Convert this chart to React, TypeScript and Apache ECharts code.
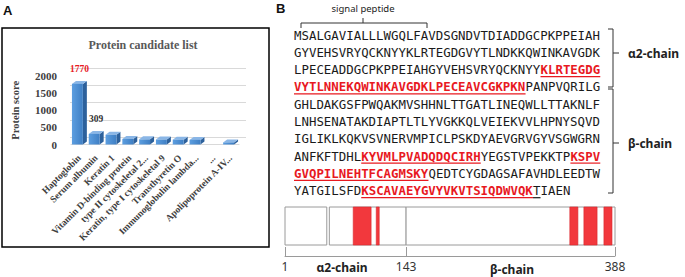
import React, { useEffect, useRef } from "react";
import * as echarts from "echarts";

// ---------- Panel A data ----------
const categories = [
  "Haptoglobin",
  "Serum albumin",
  "Keratin 1",
  "Vitamin D-binding protein",
  "type II cytoskeletal 2...",
  "Keratin, type I cytoskeletal 9",
  "Transthyretin O",
  "Immunoglobulin lambda...",
  "...",
  "Apolipoprotein A-IV...",
];
const scores: (number | null)[] = [1770, 309, 285, 160, 150, 145, 140, 135, null, 60];
const scoreLabels: (string | null)[] = ["1770", "309", null, null, null, null, null, null, null, null];
const scoreLabelColors = ["#e8191f", "#333333"];

// ---------- Panel B data ----------
type Seg = [string, "n" | "p" | "u"];
const seqLines: Seg[][] = [
  [["MSALGAVIALLLWGQLFAVDSGNDVTDIADDGCPKPPEIAH", "n"]],
  [["GYVEHSVRYQCKNYYKLRTEGDGVYTLNDKKQWINKAVGDK", "n"]],
  [["LPECEADDGCPKPPEIAHGYVEHSVRYQCKNYY", "n"], ["KLRTEGDG", "p"]],
  [["VYTLNNEKQWINKAVGDKLPECEAVCGKPKN", "p"], ["PANPVQRILG", "n"]],
  [["GHLDAKGSFPWQAKMVSHHNLTTGATLINEQWLLTTAKNLF", "n"]],
  [["LNHSENATAKDIAPTLTLYVGKKQLVEIEKVVLHPNYSQVD", "n"]],
  [["IGLIKLKQKVSVNERVMPICLPSKDYAEVGRVGYVSGWGRN", "n"]],
  [["ANFKFTDHL", "n"], ["KYVMLPVADQDQCIRH", "p"], ["YEGSTVPEKKTP", "n"], ["KSPV", "p"]],
  [["GVQPILNEHTFCAGMSKY", "p"], ["QEDTCYGDAGSAFAVHDLEEDTW", "n"]],
  [["YATGILSFD", "n"], ["KSCAVAEYGVYVKVTSIQDWVQK", "p"], ["T", "u"], ["IAEN", "n"]],
];
// schematic domain map (residue positions)
const domainBoxes = [
  [1, 50],
  [53, 143],
  [143, 388],
];
const peptideSpans = [
  [81, 102],
  [108, 111.5],
  [335, 344.5],
  [351.5, 367],
  [375, 384.5],
];
const residueTicks = [1, 143, 388];

const RED = "#e8191f";
const SERIF = "'Liberation Serif', 'Times New Roman', serif";
const SANS = "'Noto Sans', 'Liberation Sans', sans-serif";
const MONO = "'DejaVu Sans Mono', monospace";

function txt(x: number, y: number, text: string, o: any = {}) {
  const align = o.align || "left";
  return {
    type: "text",
    x,
    y,
    z: 10,
    rotation: o.rotation || 0,
    style: {
      text,
      fontFamily: o.fontFamily || SANS,
      fontSize: o.fontSize || 12,
      fontWeight: o.fontWeight || "normal",
      fill: o.fill || "#111",
      align,
      textAlign: align,
      verticalAlign: "middle",
      textVerticalAlign: "middle",
    },
  };
}
function pl(points: number[][], stroke = "#333", lw = 1) {
  return {
    type: "polyline",
    z: 10,
    shape: { points },
    style: { stroke, lineWidth: lw, fill: null },
  };
}

export default function App() {
  const ref = useRef<HTMLDivElement>(null);
  useEffect(() => {
    if (!ref.current) return;
    const chart = echarts.init(ref.current, null, { renderer: "svg" });

    // sequence graphics
    const SEQ_X = 294, SEQ_Y0 = 35, SEQ_DY = 17.3, CHAR_W = 7.47;
    const seqG: any[] = [];
    seqLines.forEach((line, li) => {
      let col = 0;
      const y = SEQ_Y0 + li * SEQ_DY;
      line.forEach(([t, kind]) => {
        const x = SEQ_X + col * CHAR_W;
        seqG.push(
          txt(x, y, t, {
            fontFamily: MONO,
            fontSize: 12.4,
            fontWeight: kind === "p" ? "bold" : "normal",
            fill: kind === "p" ? RED : "#1a1a1a",
          })
        );
        if (kind !== "n") {
          seqG.push({
            type: "line",
            z: 10,
            shape: { x1: x, y1: y + 7, x2: x + t.length * CHAR_W, y2: y + 7 },
            style: { stroke: kind === "p" ? RED : "#1a1a1a", lineWidth: 1.2 },
          });
        }
        col += t.length;
      });
    });

    const graphics: any[] = [
      // panel A
      txt(3, 10, "A", { fontFamily: "'Liberation Sans', Arial, sans-serif", fontWeight: "bold", fontSize: 13 }),
      {
        type: "rect",
        z: 10,
        shape: { x: 2, y: 28, width: 267, height: 219 },
        style: { fill: null, stroke: "#000", lineWidth: 1.5 },
      },
      txt(143, 45, "Protein candidate list", {
        fontFamily: SERIF,
        fontWeight: "bold",
        fontSize: 12,
        fill: "#595959",
        align: "center",
      }),
      // panel B
      txt(276, 8, "B", { fontFamily: "'Liberation Sans', Arial, sans-serif", fontWeight: "bold", fontSize: 13 }),
      txt(363, 8, "signal peptide", { fontSize: 9.5, align: "center", fill: "#222" }),
      pl([[301, 28], [301, 23], [427, 23], [427, 28]]),
      pl([[363, 23], [363, 18]]),
      // alpha2 bracket
      pl([[608, 29], [613, 29], [613, 87], [608, 87]]),
      pl([[613, 53], [619, 53]]),
      txt(628, 53, "α2-chain", { fontWeight: "bold", fontSize: 12, fill: "#222" }),
      // beta bracket
      pl([[608, 89], [613, 89], [613, 193], [608, 193]]),
      pl([[613, 143], [619, 143]]),
      txt(628, 143, "β-chain", { fontWeight: "bold", fontSize: 12, fill: "#222" }),
      // schematic chain labels
      txt(342, 267, "α2-chain", { fontWeight: "bold", fontSize: 12, fill: "#222", align: "center" }),
      txt(512, 269, "β-chain", { fontWeight: "bold", fontSize: 12, fill: "#222", align: "center" }),
      ...seqG,
    ];

    const barData = categories.map((_, i) => [i, scores[i] == null ? NaN : scores[i]]);

    const option: any = {
      animation: false,
      backgroundColor: "#fff",
      grid: [
        { left: 71, right: 446, top: 76, bottom: 132.5 },
        { left: 285, right: 70, top: 207, bottom: 32 },
        { left: 70, right: 439, top: 68, bottom: 140 },
      ],
      xAxis: [
        {
          gridIndex: 0,
          type: "category",
          data: categories,
          axisLine: { show: true, lineStyle: { color: "#d9d9d9" } },
          axisTick: { show: false },
          axisLabel: {
            interval: 0,
            rotate: 45,
            margin: 12,
            fontFamily: SERIF,
            fontWeight: "bold",
            fontSize: 9.5,
            color: "#404040",
          },
        },
        {
          gridIndex: 1,
          type: "value",
          min: 1,
          max: 388,
          offset: 11,
          position: "bottom",
          splitLine: { show: false },
          axisLine: { show: true, onZero: false, lineStyle: { color: "#9a9a9a", width: 1 } },
          axisTick: { show: true, inside: true, length: 9, customValues: residueTicks, lineStyle: { color: "#9a9a9a" } },
          axisLabel: {
            customValues: residueTicks,
            margin: 4,
            fontFamily: SANS,
            fontSize: 12,
            color: "#333",
          },
        },
        { gridIndex: 2, type: "value", min: 0, max: 1, show: false },
      ],
      yAxis: [
        {
          gridIndex: 0,
          type: "value",
          min: 0,
          max: 2000,
          interval: 500,
          name: "Protein score",
          nameLocation: "middle",
          nameGap: 50,
          nameRotate: 90,
          nameTextStyle: { fontFamily: SERIF, fontWeight: "bold", fontSize: 10.5, color: "#404040" },
          axisLine: { show: false },
          axisTick: { show: false },
          splitLine: { show: false },
          axisLabel: {
            margin: 14,
            fontFamily: SERIF,
            fontWeight: "bold",
            fontSize: 11,
            color: "#404040",
            formatter: (v: number) => String(v),
          },
        },
        { gridIndex: 1, type: "value", min: 0, max: 1, show: false },
        {
          gridIndex: 2,
          type: "value",
          min: 0,
          max: 2000,
          interval: 500,
          axisLine: { show: false },
          axisTick: { show: false },
          axisLabel: { show: false },
          splitLine: { show: true, lineStyle: { color: "#d9d9d9", width: 1 } },
        },
      ],
      series: [
        {
          type: "custom",
          xAxisIndex: 0,
          yAxisIndex: 0,
          data: barData,
          encode: { x: 0, y: 1 },
          z: 5,
          renderItem: (params: any, api: any) => {
            const v = api.value(1) as number;
            const idx = params.dataIndex;
            if (!(v > 0)) return { type: "group", children: [] };
            const c = api.value(0);
            const p0 = api.coord([c, 0]);
            const p1 = api.coord([c, v]);
            const band = api.size([1, 0])[0];
            const w = band * 0.65;
            const dx = 4, dy = 3;
            const xL = p0[0] - w / 2 - dx / 2;
            const xR = xL + w;
            const yB = p0[1], yT = p1[1];
            const children: any[] = [
              {
                type: "polygon",
                shape: { points: [[xR, yT], [xR + dx, yT - dy], [xR + dx, yB - dy], [xR, yB]] },
                style: { fill: "#2d619c" },
              },
              {
                type: "polygon",
                shape: { points: [[xL, yT], [xL + dx, yT - dy], [xR + dx, yT - dy], [xR, yT]] },
                style: { fill: "#8ab6e6" },
              },
              {
                type: "rect",
                shape: { x: xL, y: yT, width: w, height: yB - yT },
                style: {
                  fill: new echarts.graphic.LinearGradient(0, 0, 1, 0, [
                    { offset: 0, color: "#5c9ee0" },
                    { offset: 1, color: "#3f7fc4" },
                  ]),
                },
              },
            ];
            const lab = scoreLabels[idx];
            if (lab) {
              children.push({
                type: "text",
                x: xL + w / 2 + 2,
                y: yT - 15,
                style: {
                  text: lab,
                  fontFamily: SERIF,
                  fontWeight: "bold",
                  fontSize: 9.5,
                  fill: scoreLabelColors[idx] || "#333",
                  align: "center",
                  verticalAlign: "middle",
                },
              });
            }
            return { type: "group", children };
          },
        },
        {
          type: "custom",
          xAxisIndex: 1,
          yAxisIndex: 1,
          data: domainBoxes.map((b) => [b[0], b[1], 0.5]),
          encode: { x: [0, 1], y: 2 },
          z: 3,
          renderItem: (_p: any, api: any) => {
            const a = api.coord([api.value(0), 1]);
            const b = api.coord([api.value(1), 0]);
            return {
              type: "rect",
              shape: { x: a[0], y: a[1], width: b[0] - a[0], height: b[1] - a[1] },
              style: { fill: "#fff", stroke: "#9a9a9a", lineWidth: 1 },
            };
          },
        },
        {
          type: "custom",
          xAxisIndex: 1,
          yAxisIndex: 1,
          data: peptideSpans.map((b) => [b[0], b[1], 0.5]),
          encode: { x: [0, 1], y: 2 },
          z: 4,
          renderItem: (_p: any, api: any) => {
            const a = api.coord([api.value(0), 1]);
            const b = api.coord([api.value(1), 0]);
            return {
              type: "rect",
              shape: { x: a[0], y: a[1], width: b[0] - a[0], height: b[1] - a[1] },
              style: { fill: "#f2383d", stroke: "#d92a2f", lineWidth: 0.6 },
            };
          },
        },
      ],
      graphic: { elements: graphics },
    };
    chart.setOption(option);
    return () => chart.dispose();
  }, []);
  return (
    <div
      ref={ref}
      style={{ position: "absolute", left: 0, top: 0, width: 685, height: 277, background: "#fff" }}
    />
  );
}
